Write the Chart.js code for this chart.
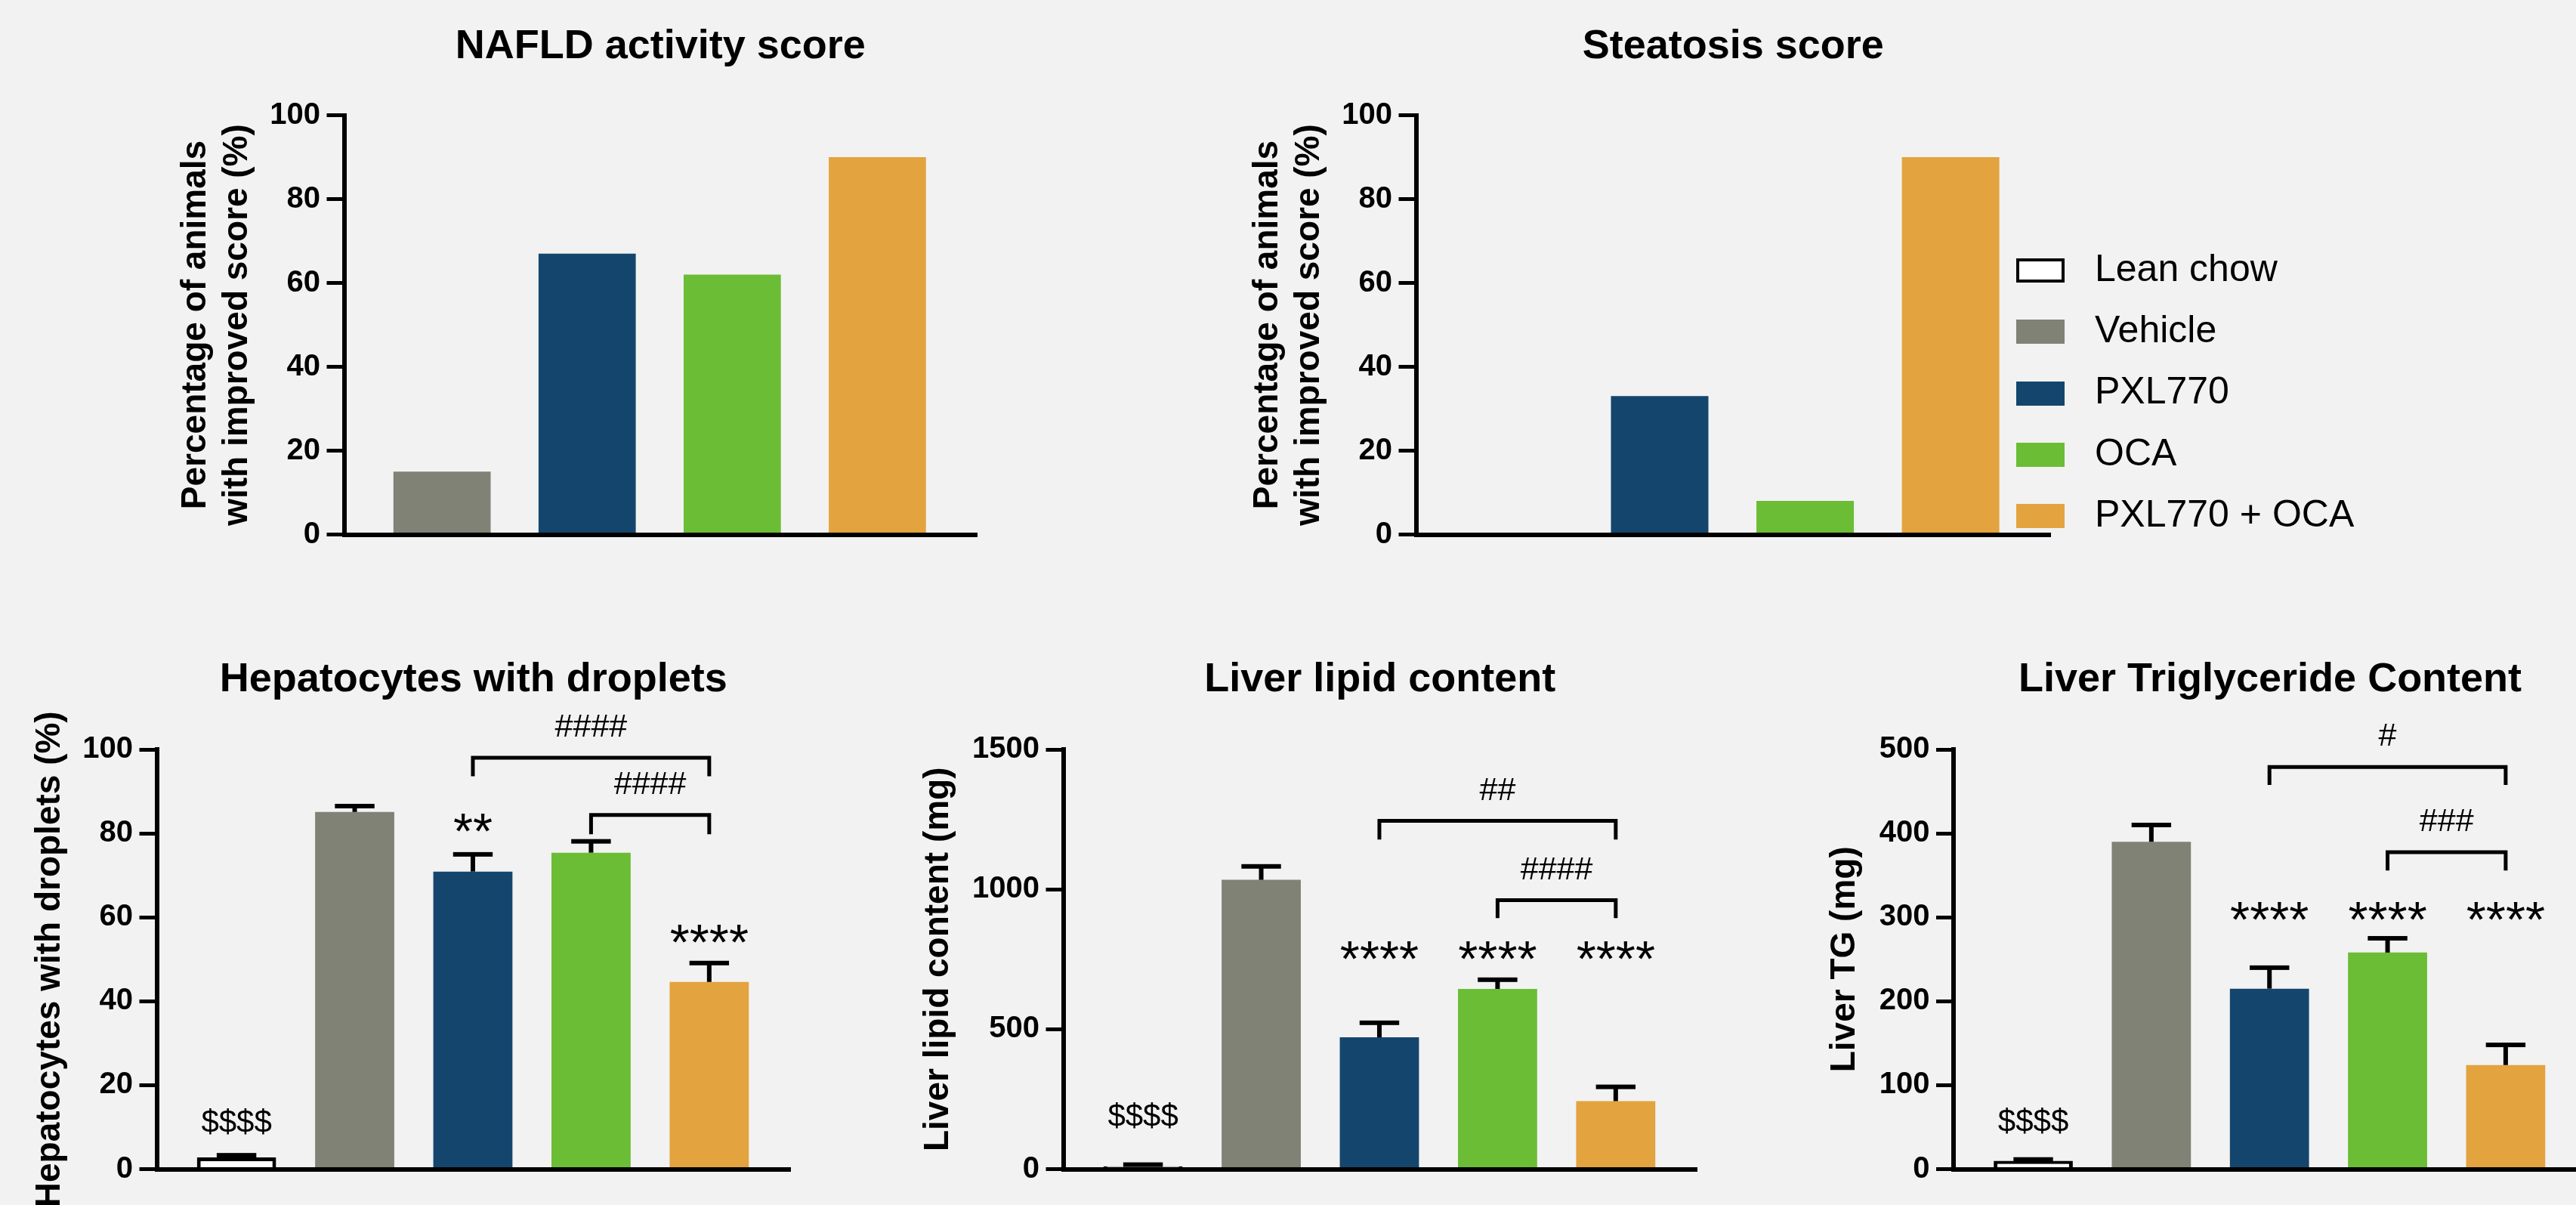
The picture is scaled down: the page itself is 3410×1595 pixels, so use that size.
<!DOCTYPE html>
<html>
<head>
<meta charset="utf-8">
<script src="https://cdn.jsdelivr.net/npm/chart.js@4.4.1/dist/chart.umd.min.js"></script>
<style>
  html, body { margin: 0; padding: 0; background: #f2f2f2; width: 3410px; height: 1595px; overflow: hidden; }
  canvas { position: absolute; }
</style>
</head>
<body>
<canvas id="nas"></canvas>
<canvas id="steatosis"></canvas>
<canvas id="droplets"></canvas>
<canvas id="lipid"></canvas>
<canvas id="tg"></canvas>
<script>
// Treatment groups
const groups = ['Lean chow', 'Vehicle', 'PXL770', 'OCA', 'PXL770 + OCA'];
const treatedGroups = groups.slice(1);

// Percentage of animals with an improved histology score (treated groups)
const nasImproved = [15, 67, 62, 90];
const steatosisImproved = [0, 33, 8, 90];

// Hepatocytes with droplets (%), mean and SEM
const dropletsMean = [2.8, 85.1, 70.9, 75.4, 44.6];
const dropletsSem = [0.5, 1.4, 4.1, 2.7, 4.5];

// Liver lipid content (mg), mean and SEM
const lipidMean = [10, 1034, 471, 644, 243];
const lipidSem = [6, 48, 52, 33, 51];

// Liver triglycerides (mg), mean and SEM
const tgMean = [10, 390, 215, 258, 124];
const tgSem = [1.5, 20, 25, 17, 24];

// Y tick values
const pctTicks = [0, 20, 40, 60, 80, 100];
const lipidTicks = [0, 500, 1000, 1500];
const tgTicks = [0, 100, 200, 300, 400, 500];

// Group colours
const fills = ['#ffffff', '#7f8274', '#14466d', '#6bbd35', '#e3a33e'];

// Significance marks ($ vs vehicle for lean chow, * vs vehicle, # vs PXL770 + OCA)
const dropletsMarks = {
  labels: [{ at: 0, text: '$$$$', value: 11.4 }, { at: 2, text: '**', value: 82.6 }, { at: 4, text: '****', value: 56.1 }],
  brackets: [
    { from: 2, to: 4, level: 98.0, foot: 93.6, text: '####', textAt: 105.6 },
    { from: 3, to: 4, level: 84.4, foot: 79.8, text: '####', textAt: 91.9 }
  ]
};
const lipidMarks = {
  labels: [{ at: 0, text: '$$$$', value: 192 }, { at: 2, text: '****', value: 781 }, { at: 3, text: '****', value: 781 }, { at: 4, text: '****', value: 781 }],
  brackets: [
    { from: 2, to: 4, level: 1244.6, foot: 1178, text: '##', textAt: 1358 },
    { from: 3, to: 4, level: 961, foot: 897, text: '####', textAt: 1076 }
  ]
};
const tgMarks = {
  labels: [{ at: 0, text: '$$$$', value: 58 }, { at: 2, text: '****', value: 307.4 }, { at: 3, text: '****', value: 307.4 }, { at: 4, text: '****', value: 307.4 }],
  brackets: [
    { from: 2, to: 4, level: 479, foot: 457.7, text: '#', textAt: 517.4 },
    { from: 3, to: 4, level: 377.6, foot: 355.8, text: '###', textAt: 415.7 }
  ]
};

const FONT = "'Liberation Sans', Arial, Helvetica, sans-serif";
Chart.defaults.font.family = FONT;
Chart.defaults.color = '#000';

function centeredText(ctx, text, x, yc, size) {
  ctx.font = size + 'px ' + FONT;
  ctx.textAlign = 'center';
  ctx.textBaseline = 'alphabetic';
  const m = ctx.measureText(text);
  ctx.fillText(text, x, yc + (m.actualBoundingBoxAscent - m.actualBoundingBoxDescent) / 2);
}

// Error bars (upper whisker only), comparison brackets and significance labels
const marksPlugin = {
  id: 'marks',
  afterDatasetsDraw(chart, args, opts) {
    const ctx = chart.ctx;
    const y = chart.scales.y;
    const bars = chart.getDatasetMeta(0).data;
    const ds = chart.data.datasets[0];
    ctx.save();
    ctx.fillStyle = '#000';
    ctx.strokeStyle = '#000';
    (opts.sem || []).forEach((s, i) => {
      const bar = bars[i];
      const mean = ds.data[i].y;
      const top = y.getPixelForValue(mean + s);
      const base = y.getPixelForValue(mean);
      const half = bar.width / 4;
      ctx.fillRect(bar.x - 3, top, 6, base - top);
      ctx.fillRect(bar.x - half, top - 3, half * 2, 6);
    });
    (opts.brackets || []).forEach(b => {
      const x1 = bars[b.from].x, x2 = bars[b.to].x;
      const yl = y.getPixelForValue(b.level), yf = y.getPixelForValue(b.foot);
      ctx.lineWidth = 5;
      ctx.lineJoin = 'miter';
      ctx.lineCap = 'butt';
      ctx.beginPath();
      ctx.moveTo(x1, yf);
      ctx.lineTo(x1, yl);
      ctx.lineTo(x2, yl);
      ctx.lineTo(x2, yf);
      ctx.stroke();
      centeredText(ctx, b.text, (x1 + x2) / 2, y.getPixelForValue(b.textAt), 43);
    });
    (opts.labels || []).forEach(l => {
      centeredText(ctx, l.text, bars[l.at].x, y.getPixelForValue(l.value), l.text.indexOf('*') >= 0 ? 67 : 42);
    });
    ctx.restore();
  }
};

// Moves the legend to a fixed spot beside the bars
const legendSpot = {
  id: 'legendSpot',
  afterLayout(chart, args, opts) {
    const lg = chart.legend;
    if (!lg) return;
    const pad = chart.options.plugins.legend.labels.padding;
    lg.left = opts.left - pad;
    lg.top = opts.top - pad;
    lg.width = 800;
    lg.height = 700;
    lg.right = lg.left + lg.width;
    lg.bottom = lg.top + lg.height;
  }
};

// Legend swatches: coloured box plus a little extra room before the text
function swatch(i) {
  const c = document.createElement('canvas');
  c.width = 79; c.height = 32;
  const g = c.getContext('2d');
  g.fillStyle = fills[i];
  g.fillRect(0, 0, 64, 32);
  if (i === 0) {
    g.strokeStyle = '#000';
    g.lineWidth = 4;
    g.strokeRect(2, 2, 60, 28);
  }
  return c;
}

function makeChart(id, f, spec) {
  const canvas = document.getElementById(id);
  canvas.width = f.w; canvas.height = f.h;
  canvas.style.left = f.x + 'px'; canvas.style.top = f.y + 'px';
  canvas.style.width = f.w + 'px'; canvas.style.height = f.h + 'px';

  const yTitleLH = 46 * 1.2, titleLH = 54 * 1.2, yTitlePad = 8;
  const scaleLeft = f.yTitleMid - yTitleLH / 2 - yTitlePad;
  const padL = scaleLeft - f.x;
  const yWidth = f.areaLeft - scaleLeft;
  const padR = f.x + f.w - f.areaRight;
  const tTop = f.titleMid - titleLH / 2 - f.y;
  const tBottom = f.areaTop - f.y - titleLH - tTop;
  const padB = f.y + f.h - f.areaBottom;
  const n = spec.labels.length;
  const ticks = spec.ticks;

  return new Chart(canvas, {
    type: 'bar',
    data: {
      labels: spec.labels,
      datasets: [{
        data: spec.values.map((v, i) => ({ x: i, y: v })),
        backgroundColor: spec.colors,
        borderColor: '#000',
        borderWidth: spec.borders,
        barPercentage: 0.67,
        categoryPercentage: 1
      }]
    },
    options: {
      responsive: false,
      animation: false,
      events: [],
      layout: { padding: { left: padL, right: padR, top: 0, bottom: padB } },
      scales: {
        x: {
          type: 'linear',
          offset: false,
          min: -0.675,
          max: n - 1 + 0.685,
          afterBuildTicks: s => { s.ticks = spec.labels.map((_, i) => ({ value: i })); },
          afterFit: s => { s.height = 0; },
          ticks: { display: false },
          grid: { display: false, drawTicks: false, offset: false },
          border: { display: true, color: '#000', width: 6 }
        },
        y: {
          min: ticks[0],
          max: ticks[ticks.length - 1],
          afterBuildTicks: s => { s.ticks = ticks.map(v => ({ value: v })); },
          afterFit: s => { s.width = yWidth; },
          ticks: { font: { size: 40, weight: 'bold' }, color: '#000', padding: 8.5, callback: v => String(v) },
          grid: { drawOnChartArea: false, color: '#000', lineWidth: 5, tickLength: 23, tickWidth: 5 },
          border: { display: true, color: '#000', width: 6 },
          title: {
            display: true,
            text: spec.yTitle,
            font: { size: 46, weight: 'bold', lineHeight: 1.2 },
            color: '#000',
            padding: { top: yTitlePad, bottom: 0 }
          }
        }
      },
      plugins: {
        legend: spec.legend || { display: false },
        tooltip: { enabled: false },
        title: {
          display: true,
          text: spec.title,
          fullSize: false,
          font: { size: 54, weight: 'bold', lineHeight: 1.2 },
          color: '#000',
          padding: { top: tTop, bottom: tBottom }
        },
        marks: spec.marks || {},
        legendSpot: spec.legendSpot || {}
      }
    },
    plugins: [marksPlugin].concat(spec.extraPlugins || [])
  });
}

makeChart('nas',
  { x: 0, y: 0, w: 1320, h: 800, areaLeft: 455.5, areaRight: 1293, areaTop: 152.5, areaBottom: 707.5, yTitleMid: 259, titleMid: 62.5 },
  {
    title: 'NAFLD activity score',
    yTitle: ['Percentage of animals', 'with improved score (%)'],
    labels: treatedGroups,
    values: nasImproved,
    colors: fills.slice(1),
    borders: [0, 0, 0, 0],
    ticks: pctTicks
  });

makeChart('steatosis',
  { x: 1320, y: 0, w: 2090, h: 800, areaLeft: 1874.5, areaRight: 2714, areaTop: 152.5, areaBottom: 707.5, yTitleMid: 1678.6, titleMid: 62.5 },
  {
    title: 'Steatosis score',
    yTitle: ['Percentage of animals', 'with improved score (%)'],
    labels: treatedGroups,
    values: steatosisImproved,
    colors: fills.slice(1),
    borders: [0, 0, 0, 0],
    ticks: pctTicks,
    legend: {
      display: true,
      position: 'chartArea',
      align: 'start',
      labels: {
        usePointStyle: true,
        pointStyleWidth: 79,
        boxHeight: 32,
        padding: 31.3,
        color: '#000',
        font: { size: 50, weight: 'normal' },
        generateLabels: () => groups.map((g, i) => ({
          text: g,
          pointStyle: swatch(i),
          fillStyle: fills[i],
          strokeStyle: '#000',
          lineWidth: 0,
          hidden: false,
          fontColor: '#000',
          textAlign: 'left',
          datasetIndex: 0,
          index: i
        }))
      }
    },
    legendSpot: { left: 2669 - 1320, top: 333 },
    extraPlugins: [legendSpot]
  });

makeChart('droplets',
  { x: 0, y: 830, w: 1100, h: 765, areaLeft: 207.5, areaRight: 1046, areaTop: 992, areaBottom: 1547.5, yTitleMid: 66, titleMid: 900.2 },
  {
    title: 'Hepatocytes with droplets',
    yTitle: 'Hepatocytes with droplets (%)',
    labels: groups,
    values: dropletsMean,
    colors: fills,
    borders: [5, 0, 0, 0, 0],
    ticks: pctTicks,
    marks: Object.assign({ sem: dropletsSem }, dropletsMarks)
  });

makeChart('lipid',
  { x: 1100, y: 830, w: 1200, h: 765, areaLeft: 1407.5, areaRight: 2246, areaTop: 992, areaBottom: 1547.5, yTitleMid: 1242.8, titleMid: 900.2 },
  {
    title: 'Liver lipid content',
    yTitle: 'Liver lipid content (mg)',
    labels: groups,
    values: lipidMean,
    colors: fills,
    borders: [5, 0, 0, 0, 0],
    ticks: lipidTicks,
    marks: Object.assign({ sem: lipidSem }, lipidMarks)
  });

makeChart('tg',
  { x: 2300, y: 830, w: 1130, h: 765, areaLeft: 2586, areaRight: 3424, areaTop: 992, areaBottom: 1547.5, yTitleMid: 2442, titleMid: 900.2 },
  {
    title: 'Liver Triglyceride Content',
    yTitle: 'Liver TG (mg)',
    labels: groups,
    values: tgMean,
    colors: fills,
    borders: [5, 0, 0, 0, 0],
    ticks: tgTicks,
    marks: Object.assign({ sem: tgSem }, tgMarks)
  });
</script>
</body>
</html>
